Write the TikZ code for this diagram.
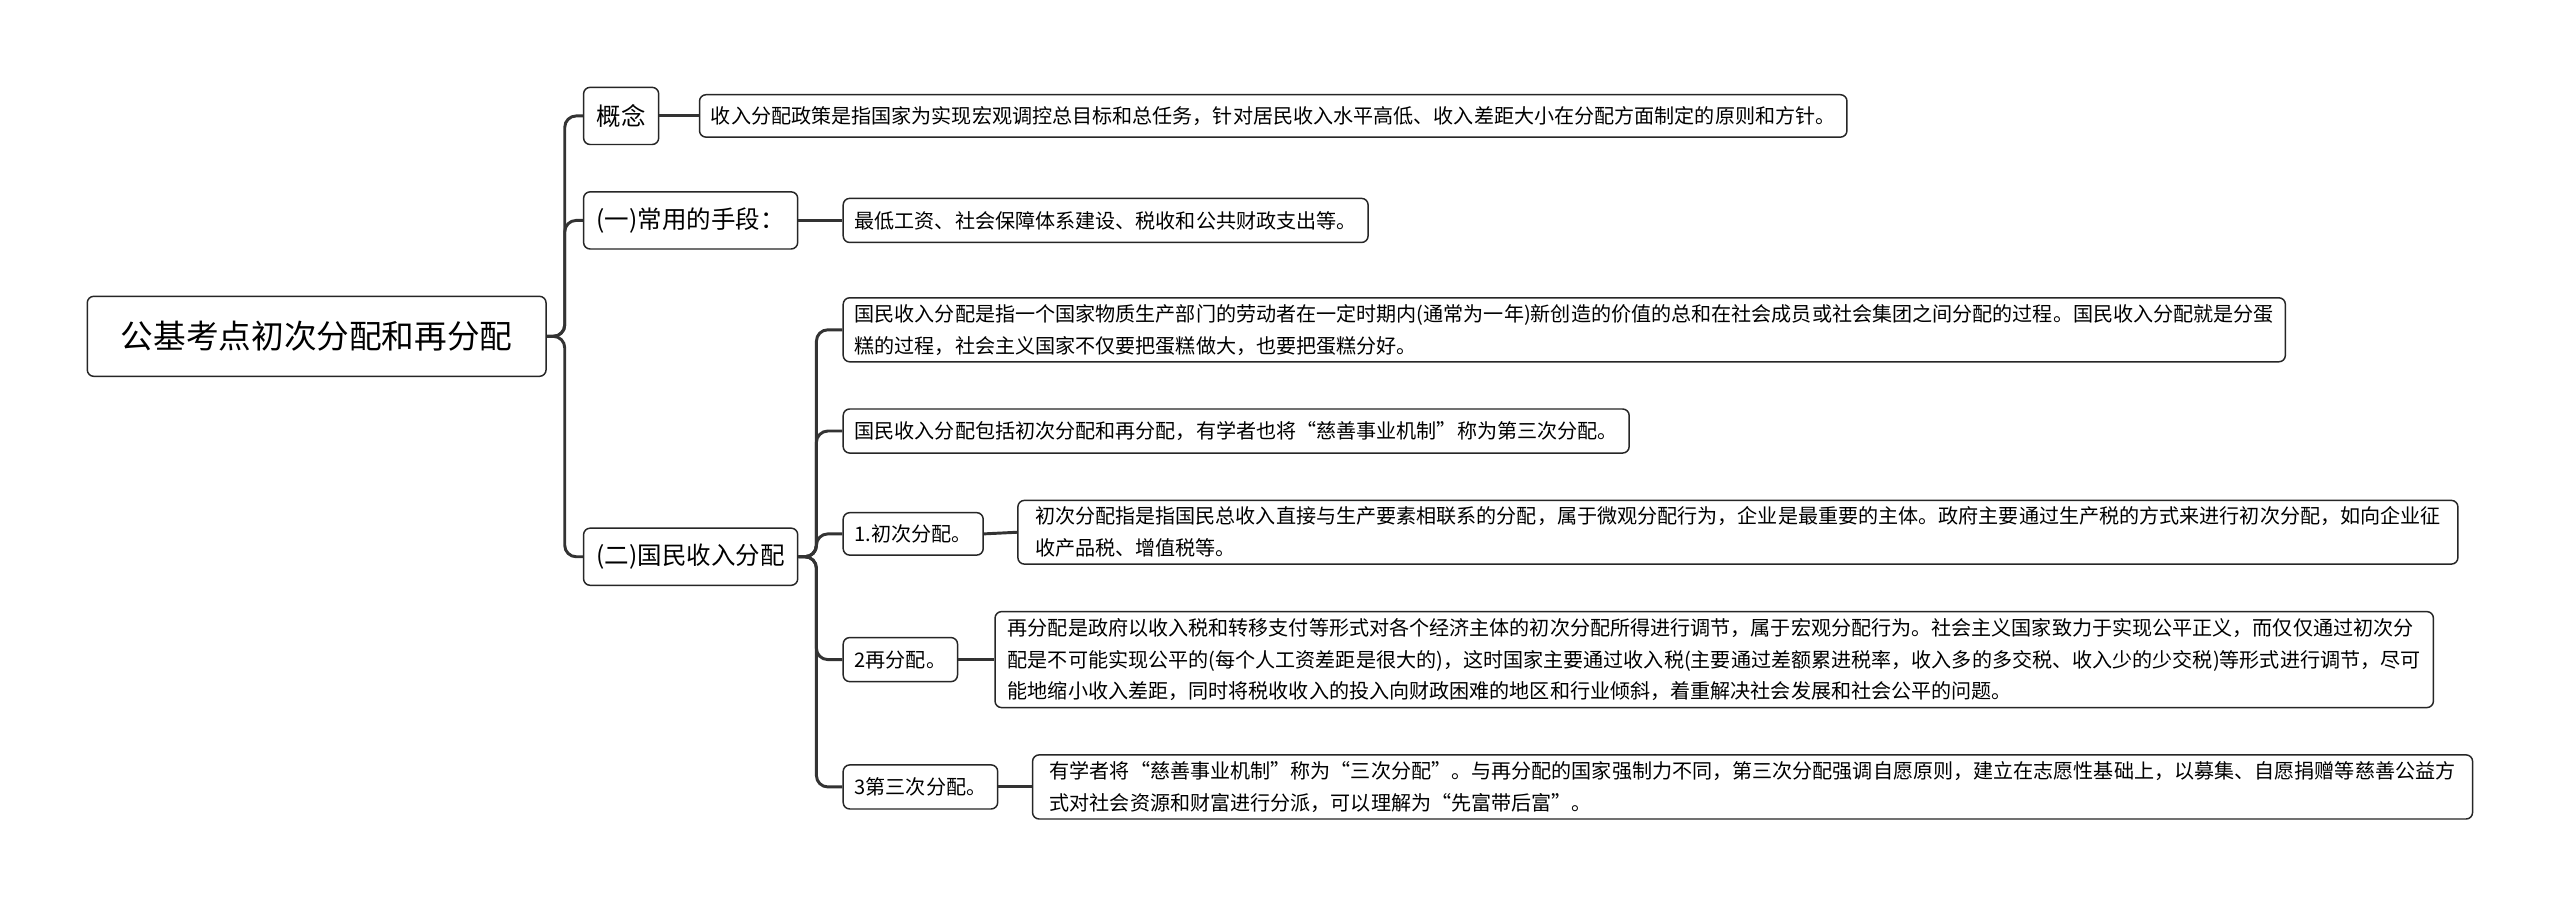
\documentclass[tikz,border=0pt]{standalone}
\usepackage{fontspec}
\setmainfont{Noto Sans CJK SC}
\begin{document}
\begin{tikzpicture}[x=1pt,y=-1pt,
  box/.style={draw=black!85,line width=0.9pt,rounded corners=4pt,fill=white,inner sep=0pt,align=left,anchor=west},
  leaf/.style={box,font=\fontsize{12.3}{19.5}\selectfont,inner xsep=7pt,inner ysep=4pt},
  lvl/.style={box,font=\fontsize{15}{18}\selectfont,inner xsep=8pt,minimum height=35pt},
  con/.style={draw=black!80,line width=1.8pt,rounded corners=7pt}]
\useasboundingbox[fill=white] (0,0) rectangle (1568,557);
\node[box,font=\fontsize{20}{24}\selectfont,minimum height=49pt,minimum width=281pt,align=center] (root) at (53,206) {公基考点初次分配和再分配};
\node[lvl] (c1) at (357,71) {概念};
\node[lvl] (c2) at (357,135) {(一)常用的手段：};
\node[lvl] (c3) at (357,341) {(二)国民收入分配};
\node[leaf,minimum height=26pt] (l1) at (428,71) {收入分配政策是指国家为实现宏观调控总目标和总任务，针对居民收入水平高低、收入差距大小在分配方面制定的原则和方针。};
\node[leaf,minimum height=27pt] (l2) at (516,135) {最低工资、社会保障体系建设、税收和公共财政支出等。};
\node[leaf,minimum width=883pt] (a) at (516,202) {国民收入分配是指一个国家物质生产部门的劳动者在一定时期内(通常为一年)新创造的价值的总和在社会成员或社会集团之间分配的过程。国民收入分配就是分蛋\\糕的过程，社会主义国家不仅要把蛋糕做大，也要把蛋糕分好。};
\node[leaf,minimum height=27pt] (b) at (516,264) {国民收入分配包括初次分配和再分配，有学者也将“慈善事业机制”称为第三次分配。};
\node[leaf,minimum height=26pt] (s1) at (516,327) {1.初次分配。};
\node[leaf,minimum width=882pt] (t1) at (623,326) {初次分配指是指国民总收入直接与生产要素相联系的分配，属于微观分配行为，企业是最重要的主体。政府主要通过生产税的方式来进行初次分配，如向企业征\\收产品税、增值税等。};
\node[leaf,minimum height=27pt] (s2) at (516,404) {2再分配。};
\node[leaf,minimum width=881pt] (t2) at (609,404) {再分配是政府以收入税和转移支付等形式对各个经济主体的初次分配所得进行调节，属于宏观分配行为。社会主义国家致力于实现公平正义，而仅仅通过初次分\\配是不可能实现公平的(每个人工资差距是很大的)，这时国家主要通过收入税(主要通过差额累进税率，收入多的多交税、收入少的少交税)等形式进行调节，尽可\\能地缩小收入差距，同时将税收收入的投入向财政困难的地区和行业倾斜，着重解决社会发展和社会公平的问题。};
\node[leaf,minimum height=27pt] (s3) at (516,482) {3第三次分配。};
\node[leaf,minimum width=882pt] (t3) at (632,482) {有学者将“慈善事业机制”称为“三次分配”。与再分配的国家强制力不同，第三次分配强调自愿原则，建立在志愿性基础上，以募集、自愿捐赠等慈善公益方\\式对社会资源和财富进行分派，可以理解为“先富带后富”。};
\foreach \n in {c1,c2,c3} \draw[con] (root.east) -- ++(11,0) |- (\n.west);
\foreach \n in {a,b,s1,s2,s3} \draw[con] (c3.east) -- ++(11,0) |- (\n.west);
\draw[con] (c1.east) -- (l1.west);
\draw[con] (c2.east) -- (l2.west);
\draw[con] (s1.east) -- (t1.west);
\draw[con] (s2.east) -- (t2.west);
\draw[con] (s3.east) -- (t3.west);
\end{tikzpicture}
\end{document}
